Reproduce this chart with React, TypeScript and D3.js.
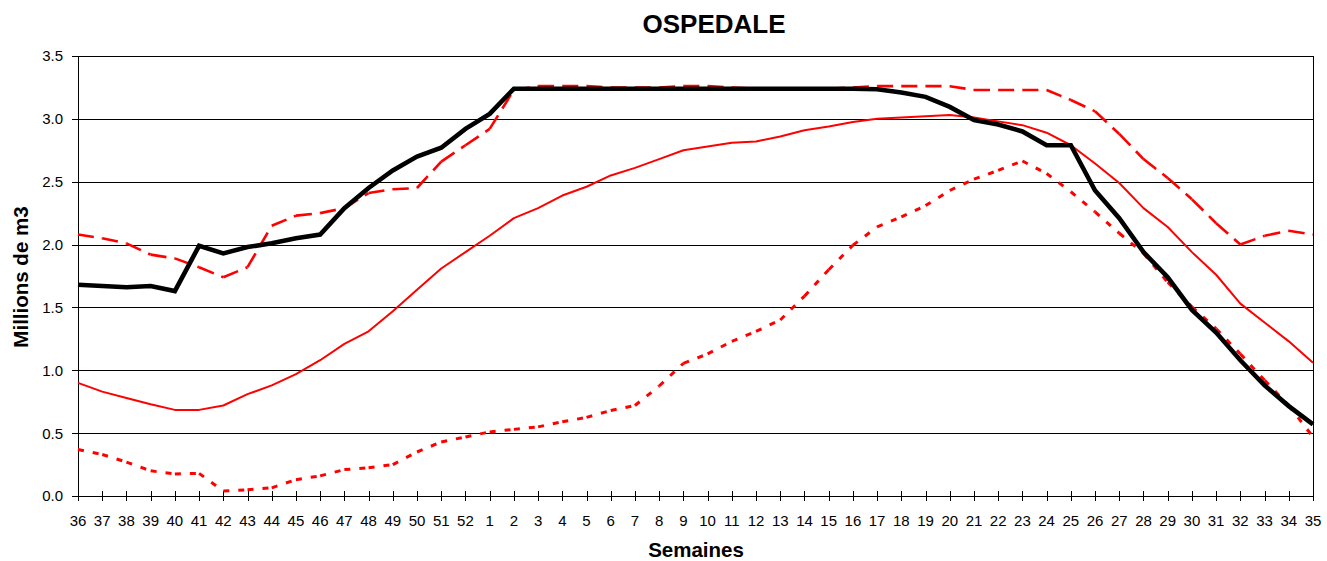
import React from "react";
import * as d3 from "d3";

const weeks: string[] = [
  "36","37","38","39","40","41","42","43","44","45","46","47","48","49","50","51","52",
  "1","2","3","4","5","6","7","8","9","10","11","12","13","14","15","16","17","18","19","20",
  "21","22","23","24","25","26","27","28","29","30","31","32","33","34","35",
];

// long-dashed red (maximum)
const maxSeries: number[] = [
  2.08,2.05,2.01,1.92,1.89,1.82,1.74,1.82,2.15,2.23,2.25,2.29,2.41,2.44,2.45,2.66,2.79,
  2.92,3.23,3.26,3.26,3.26,3.25,3.25,3.25,3.26,3.26,3.25,3.24,3.24,3.24,3.24,3.25,3.26,3.26,3.26,3.26,
  3.23,3.23,3.23,3.23,3.15,3.06,2.88,2.68,2.53,2.36,2.17,2.0,2.07,2.11,2.08,
];

// solid thin red (mean)
const meanSeries: number[] = [
  0.9,0.83,0.78,0.73,0.685,0.685,0.72,0.81,0.88,0.97,1.08,1.21,1.31,1.47,1.64,1.81,1.94,
  2.07,2.21,2.29,2.39,2.46,2.55,2.61,2.68,2.75,2.78,2.81,2.82,2.86,2.91,2.94,2.975,3.0,3.01,3.02,3.03,
  3.01,2.98,2.95,2.89,2.79,2.645,2.49,2.29,2.14,1.94,1.76,1.53,1.38,1.23,1.06,
];

// short-dashed red (minimum)
const minSeries: number[] = [
  0.37,0.33,0.27,0.2,0.175,0.18,0.04,0.05,0.065,0.13,0.16,0.21,0.225,0.25,0.35,0.43,0.47,
  0.51,0.53,0.55,0.59,0.625,0.68,0.72,0.875,1.055,1.13,1.23,1.31,1.4,1.59,1.8,1.995,2.14,2.22,2.31,2.43,
  2.52,2.59,2.665,2.565,2.42,2.26,2.09,1.93,1.7,1.505,1.33,1.13,0.92,0.72,0.47,
];

// thick black (current year)
const currentSeries: number[] = [
  1.68,1.67,1.66,1.67,1.63,1.99,1.93,1.98,2.01,2.05,2.08,2.29,2.45,2.59,2.7,2.77,2.92,
  3.04,3.24,3.24,3.24,3.24,3.24,3.24,3.24,3.24,3.24,3.24,3.24,3.24,3.24,3.24,3.24,3.235,3.21,3.175,3.095,
  2.99,2.955,2.9,2.79,2.79,2.43,2.21,1.94,1.74,1.48,1.3,1.08,0.88,0.715,0.57,
];

const yTicks: number[] = [0, 0.5, 1, 1.5, 2, 2.5, 3, 3.5];

const W = 1327;
const H = 561;
const left = 78;
const right = 1313;
const top = 56;
const bottom = 496;
const FONT = "'Liberation Sans', Arial, sans-serif";

export default function App() {
  const x = d3.scalePoint<string>().domain(weeks).range([left, right]);
  const y = d3.scaleLinear().domain([0, 3.5]).range([bottom, top]);
  const line = d3
    .line<[string, number]>()
    .x((d) => x(d[0]) as number)
    .y((d) => y(d[1]));

  const pairs = (vals: number[]) => weeks.map((w, i) => [w, vals[i]] as [string, number]);
  const segments = (vals: number[]) => {
    const p = pairs(vals);
    const out: string[] = [];
    for (let i = 0; i < p.length - 1; i++) out.push(line([p[i], p[i + 1]]) as string);
    return out;
  };

  return (
    <svg
      width={W}
      height={H}
      style={{ position: "absolute", left: 0, top: 0, display: "block", background: "#fff" }}
    >
      {/* gridlines */}
      {yTicks.map((t) => (
        <line
          key={"g" + t}
          x1={left}
          x2={right}
          y1={Math.round(y(t)) + 0.5}
          y2={Math.round(y(t)) + 0.5}
          stroke="#000"
          strokeWidth={1}
          shapeRendering="crispEdges"
        />
      ))}
      {/* right border */}
      <line x1={right + 0.5} x2={right + 0.5} y1={top} y2={bottom} stroke="#000" strokeWidth={1} shapeRendering="crispEdges" />
      {/* axes */}
      <line x1={left + 0.5} x2={left + 0.5} y1={top} y2={bottom + 0.5} stroke="#000" strokeWidth={1.3} shapeRendering="crispEdges" />
      <line x1={left} x2={right} y1={Math.round(y(0)) + 0.5} y2={Math.round(y(0)) + 0.5} stroke="#000" strokeWidth={1.3} shapeRendering="crispEdges" />
      {/* y ticks */}
      {yTicks.map((t) => (
        <g key={"yt" + t}>
          <line
            x1={left - 6}
            x2={left}
            y1={Math.round(y(t)) + 0.5}
            y2={Math.round(y(t)) + 0.5}
            stroke="#000"
            strokeWidth={1}
            shapeRendering="crispEdges"
          />
          <text
            x={63}
            y={y(t)}
            dy="0.36em"
            textAnchor="end"
            fontFamily={FONT}
            fontSize={15}
            fill="#000"
          >
            {t.toFixed(1)}
          </text>
        </g>
      ))}
      {/* x ticks */}
      {weeks.map((w) => (
        <g key={"xt" + w}>
          <line
            x1={Math.round(x(w) as number) + 0.5}
            x2={Math.round(x(w) as number) + 0.5}
            y1={bottom - 5}
            y2={bottom + 5}
            stroke="#000"
            strokeWidth={1}
            shapeRendering="crispEdges"
          />
          <text x={x(w) as number} y={526} textAnchor="middle" fontFamily={FONT} fontSize={15} fill="#000">
            {w}
          </text>
        </g>
      ))}

      {/* series */}
      <path d={line(pairs(meanSeries)) as string} fill="none" stroke="#ff0000" strokeWidth={2} strokeLinejoin="round" />
      {segments(maxSeries).map((d, i) => (
        <path key={"mx" + i} d={d} fill="none" stroke="#ff0000" strokeWidth={2.6} strokeDasharray="16,8" />
      ))}
      {segments(minSeries).map((d, i) => (
        <path key={"mn" + i} d={d} fill="none" stroke="#ff0000" strokeWidth={3} strokeDasharray="6,9" />
      ))}
      <path d={line(pairs(currentSeries)) as string} fill="none" stroke="#000" strokeWidth={4.6} strokeLinejoin="miter" />

      {/* titles */}
      <text x={714} y={33} textAnchor="middle" fontFamily={FONT} fontWeight="bold" fontSize={26} fill="#000">
        OSPEDALE
      </text>
      <text x={696} y={557} textAnchor="middle" fontFamily={FONT} fontWeight="bold" fontSize={20.5} fill="#000">
        Semaines
      </text>
      <text
        transform={`translate(28, 277) rotate(-90)`}
        textAnchor="middle"
        fontFamily={FONT}
        fontWeight="bold"
        fontSize={20.5}
        fill="#000"
      >
        Millions de m3
      </text>
    </svg>
  );
}
